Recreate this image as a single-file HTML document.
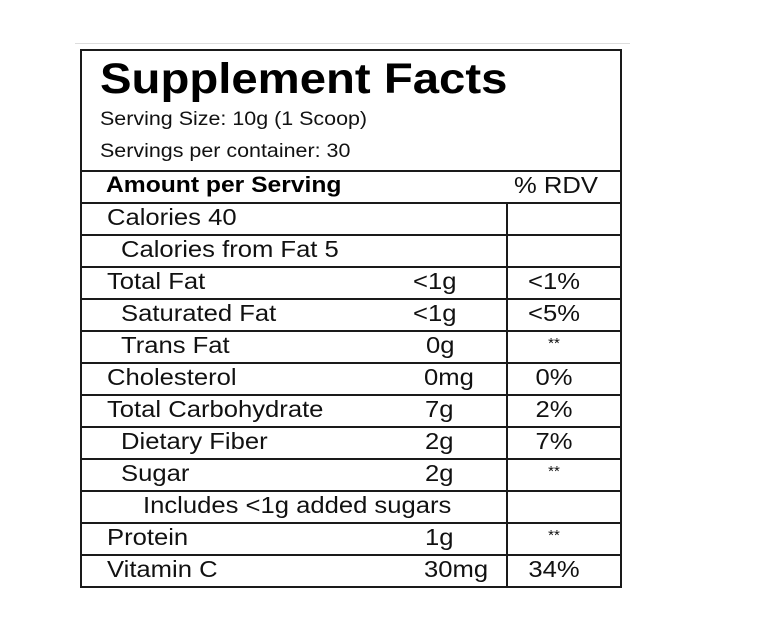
<!DOCTYPE html>
<html><head><style>
body{margin:0;background:#fff;width:773px;height:620px;position:relative;overflow:hidden;font-family:"Liberation Sans",Arial,sans-serif;color:#111}
.a{position:absolute;white-space:nowrap;transform-origin:0 0}
.h{position:absolute;left:81px;width:541px;height:2px;background:#1a1a1a}
.t{font-size:23.5px;transform:scaleX(1.09)}
.c{text-align:center;width:90px;transform-origin:50% 0}
.s{font-size:15px;transform:none}
</style></head><body>
<div class="a" style="left:75px;top:43px;width:555px;height:1px;background:#ddd"></div>
<div class="a" style="left:80px;top:49px;width:538px;height:535px;border:2px solid #1a1a1a"></div>
<div class="a" style="left:506px;top:203px;width:2px;height:383px;background:#1a1a1a"></div>
<div class="h" style="top:170px"></div>
<div class="h" style="top:202px"></div>
<div class="h" style="top:234px"></div>
<div class="h" style="top:266px"></div>
<div class="h" style="top:298px"></div>
<div class="h" style="top:330px"></div>
<div class="h" style="top:362px"></div>
<div class="h" style="top:394px"></div>
<div class="h" style="top:426px"></div>
<div class="h" style="top:458px"></div>
<div class="h" style="top:490px"></div>
<div class="h" style="top:522px"></div>
<div class="h" style="top:554px"></div>
<div class="a" style="left:100px;top:55px;font-size:43px;font-weight:bold;color:#000;transform:scaleX(1.1)">Supplement Facts</div>
<div class="a" style="left:100px;top:108px;font-size:19.5px;transform:scaleX(1.1)">Serving Size: 10g (1 Scoop)</div>
<div class="a" style="left:100px;top:140px;font-size:19.5px;transform:scaleX(1.1)">Servings per container: 30</div>
<div class="a" style="left:106px;top:172px;font-size:22px;font-weight:bold;color:#000;transform:scaleX(1.12)">Amount per Serving</div>
<div class="a t" style="left:514px;top:172px">% RDV</div>
<div class="a t" style="left:107px;top:204px">Calories 40</div>
<div class="a t" style="left:121px;top:236px">Calories from Fat 5</div>
<div class="a t" style="left:107px;top:268px">Total Fat</div>
<div class="a t" style="left:121px;top:300px">Saturated Fat</div>
<div class="a t" style="left:121px;top:332px">Trans Fat</div>
<div class="a t" style="left:107px;top:364px">Cholesterol</div>
<div class="a t" style="left:107px;top:396px">Total Carbohydrate</div>
<div class="a t" style="left:121px;top:428px">Dietary Fiber</div>
<div class="a t" style="left:121px;top:460px">Sugar</div>
<div class="a t" style="left:143px;top:492px">Includes &lt;1g added sugars</div>
<div class="a t" style="left:107px;top:524px">Protein</div>
<div class="a t" style="left:107px;top:556px">Vitamin C</div>
<div class="a t" style="left:413px;top:268px">&lt;1g</div>
<div class="a t" style="left:413px;top:300px">&lt;1g</div>
<div class="a t" style="left:426px;top:332px">0g</div>
<div class="a t" style="left:424px;top:364px">0mg</div>
<div class="a t" style="left:425px;top:396px">7g</div>
<div class="a t" style="left:425px;top:428px">2g</div>
<div class="a t" style="left:425px;top:460px">2g</div>
<div class="a t" style="left:425px;top:524px">1g</div>
<div class="a t" style="left:424px;top:556px">30mg</div>
<div class="a t c" style="left:509px;top:268px">&lt;1%</div>
<div class="a t c" style="left:509px;top:300px">&lt;5%</div>
<div class="a c s" style="left:509px;top:335px">**</div>
<div class="a t c" style="left:509px;top:364px">0%</div>
<div class="a t c" style="left:509px;top:396px">2%</div>
<div class="a t c" style="left:509px;top:428px">7%</div>
<div class="a c s" style="left:509px;top:463px">**</div>
<div class="a c s" style="left:509px;top:527px">**</div>
<div class="a t c" style="left:509px;top:556px">34%</div>
</body></html>
